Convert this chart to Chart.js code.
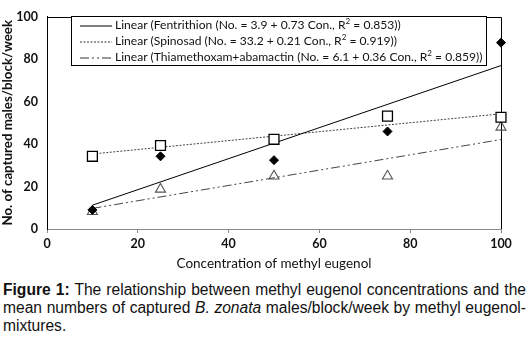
<!DOCTYPE html>
<html>
<head>
<meta charset="utf-8">
<script src="https://cdn.jsdelivr.net/npm/chart.js@4.4.1/dist/chart.umd.min.js"></script>
<style>
  html, body { margin: 0; padding: 0; background: #fff; }
  #wrap { position: relative; width: 532px; height: 272px; }
  #legend {
    position: absolute; left: 71px; top: 16px; width: 416px; height: 50px;
    border: 1px solid #000; background: #fff; box-sizing: border-box;
    font-family: Lato, sans-serif; font-size: 12.1px; color: #111;
    padding-top: 0px;
  }
  #legend .row { height: 16px; line-height: 16px; white-space: nowrap; }
  #legend svg { vertical-align: middle; margin: 0 3px 0 8px; }
  #caption {
    position: absolute; left: 3px; top: 281px; width: 523px;
    font-family: "Liberation Sans", Arial, sans-serif; font-size: 15.6px;
    line-height: 18px; color: #111; text-align: justify;
  }
</style>
</head>
<body>
<div id="wrap">
  <canvas id="chart"></canvas>
  <div id="legend">
    <div class="row"><svg width="32" height="4"><line x1="0" y1="2" x2="32" y2="2" stroke="#000" stroke-width="1"/></svg>Linear (Fentrithion (No. = 3.9 + 0.73 Con., R<sup style="font-size:8px;line-height:0">2</sup> = 0.853))</div>
    <div class="row"><svg width="32" height="4"><line x1="0" y1="2" x2="32" y2="2" stroke="#333" stroke-width="1" stroke-dasharray="2,1.5"/></svg>Linear (Spinosad (No. = 33.2 + 0.21 Con., R<sup style="font-size:8px;line-height:0">2</sup> = 0.919))</div>
    <div class="row"><svg width="32" height="4"><line x1="0" y1="2" x2="32" y2="2" stroke="#333" stroke-width="1" stroke-dasharray="9,3,2,3,2,3"/></svg>Linear (Thiamethoxam+abamactin (No. = 6.1 + 0.36 Con., R<sup style="font-size:8px;line-height:0">2</sup> = 0.859))</div>
  </div>
</div>
<div id="caption"><b>Figure 1:</b> The relationship between methyl eugenol concentrations and the mean numbers of captured <i>B. zonata</i> males/block/week by methyl eugenol-mixtures.</div>

<script>
const concentrations = [10, 25, 50, 75, 100];
const fentrithion = [9.0, 34.2, 32.4, 45.9, 87.7];
const spinosad = [34.2, 39.3, 42.2, 53.1, 52.6];
const thiamethoxam = [8.2, 18.7, 24.9, 24.9, 47.9];

// trend line end points (x = 10 and x = 100), from the fitted equations
const trendX = [10, 100];
const fentrithionTrend = [11.2, 76.9];
const spinosadTrend = [35.3, 54.2];
const thiamethoxamTrend = [9.7, 42.1];

const xTicks = [0, 20, 40, 60, 80, 100];
const yTicks = [0, 20, 40, 60, 80, 100];

const pts = (xs, ys) => xs.map((x, i) => ({ x, y: ys[i] }));

// the plot has a closed frame: black left, top and right edges
const frame = {
  id: "frame",
  beforeDatasetsDraw(chart) {
    const { ctx, chartArea: a } = chart;
    ctx.save();
    ctx.strokeStyle = "#000";
    ctx.lineWidth = 1;
    ctx.beginPath();
    ctx.moveTo(Math.round(a.left) + 0.5, Math.round(a.bottom));
    ctx.lineTo(Math.round(a.left) + 0.5, Math.round(a.top) + 0.5);
    ctx.lineTo(Math.round(a.right) + 0.5, Math.round(a.top) + 0.5);
    ctx.lineTo(Math.round(a.right) + 0.5, Math.round(a.bottom));
    ctx.stroke();
    ctx.restore();
  },
};

const tickFont = { family: "Lato, sans-serif", size: 12.5, weight: "bold" };

// eslint-disable-next-line no-new
new Chart(document.getElementById("chart"), {
  type: "scatter",
  plugins: [frame],
  data: {
    datasets: [
      {
        label: "Fentrithion trend",
        type: "line",
        data: pts(trendX, fentrithionTrend),
        borderColor: "#000",
        borderWidth: 1,
        pointRadius: 0,
        order: 2,
      },
      {
        label: "Spinosad trend",
        type: "line",
        data: pts(trendX, spinosadTrend),
        borderColor: "#444",
        borderWidth: 1,
        borderDash: [2, 1.5],
        pointRadius: 0,
        order: 2,
      },
      {
        label: "Thiamethoxam trend",
        type: "line",
        data: pts(trendX, thiamethoxamTrend),
        borderColor: "#444",
        borderWidth: 1,
        borderDash: [9, 3, 2, 3, 2, 3],
        pointRadius: 0,
        order: 2,
      },
      {
        label: "Fentrithion",
        data: pts(concentrations, fentrithion),
        pointStyle: "rectRot",
        pointRadius: 4.5,
        backgroundColor: "#000",
        borderColor: "#000",
        borderWidth: 1,
        clip: false,
        order: 1,
      },
      {
        label: "Spinosad",
        data: pts(concentrations, spinosad),
        pointStyle: "rect",
        pointRadius: 7,
        backgroundColor: "#fff",
        borderColor: "#000",
        borderWidth: 1.3,
        clip: false,
        order: 1,
      },
      {
        label: "Thiamethoxam+abamactin",
        data: pts(concentrations, thiamethoxam),
        pointStyle: "triangle",
        pointRadius: 5.8,
        backgroundColor: "rgba(255,255,255,0)",
        borderColor: "#555",
        borderWidth: 1.1,
        clip: false,
        order: 1,
      },
    ],
  },
  options: {
    animation: false,
    responsive: true,
    maintainAspectRatio: false,
    layout: { padding: { top: 15, right: 31, left: 0, bottom: 0 } },
    plugins: {
      legend: { display: false },
      tooltip: { enabled: false },
    },
    scales: {
      x: {
        type: "linear",
        min: 0,
        max: 100,
        afterBuildTicks: (s) => { s.ticks = xTicks.map((v) => ({ value: v })); },
        afterFit: (s) => { s.height = 43; },
        ticks: { color: "#111", font: tickFont, padding: 3 },
        grid: {
          drawOnChartArea: false,
          drawTicks: true,
          tickLength: 4,
          color: "#888",
        },
        border: { color: "#888", width: 1 },
        title: {
          display: true,
          text: "Concentration of methyl eugenol",
          color: "#111",
          font: { family: "Lato, sans-serif", size: 13.5 },
          padding: { top: 1, bottom: 0 },
        },
      },
      y: {
        min: 0,
        max: 100,
        afterBuildTicks: (s) => { s.ticks = yTicks.map((v) => ({ value: v })); },
        afterFit: (s) => { s.width = 47; },
        ticks: { color: "#111", font: tickFont, padding: 9 },
        grid: { drawOnChartArea: false, drawTicks: false },
        border: { color: "#000", width: 1 },
        title: {
          display: true,
          text: "No. of captured males/block/week",
          color: "#111",
          font: { family: "Lato, sans-serif", size: 13.3, weight: "bold" },
          padding: { top: 0, bottom: 0 },
        },
      },
    },
  },
});
</script>
</body>
</html>
